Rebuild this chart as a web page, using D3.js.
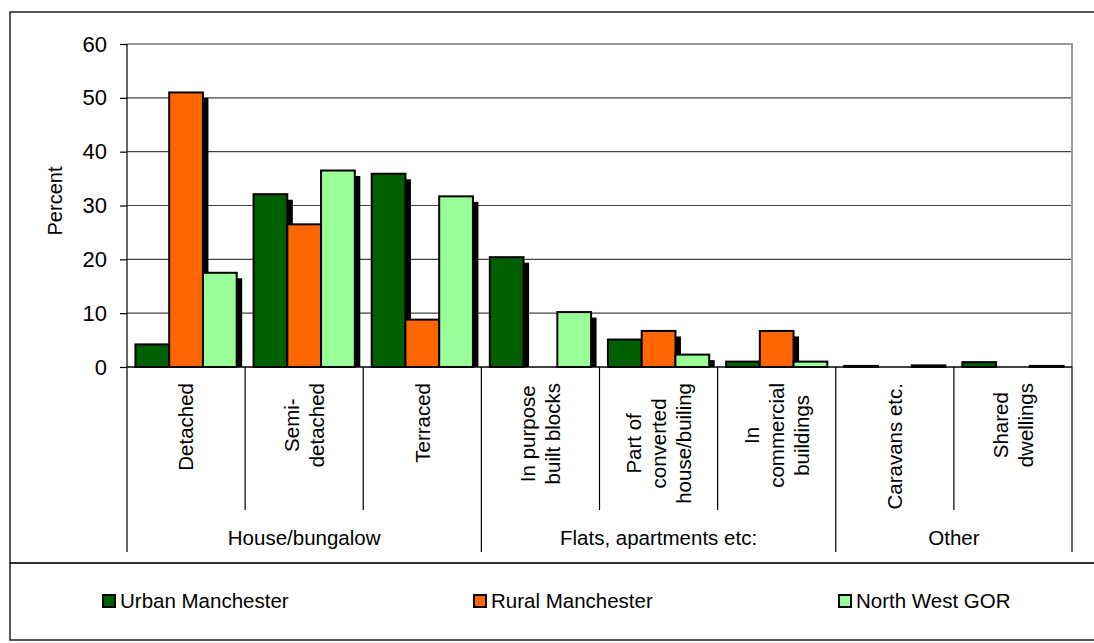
<!DOCTYPE html>
<html>
<head>
<meta charset="utf-8">
<script src="https://cdn.jsdelivr.net/npm/d3@7"></script>
<style>
  body { margin: 0; background: #fff; }
  svg { display: block; font-family: Arial, "Liberation Sans", sans-serif; }
</style>
</head>
<body>
<svg width="1094" height="643"></svg>
<script>
// categories (each entry = lines of the rotated label)
var categories = [
  ["Detached"],
  ["Semi-", "detached"],
  ["Terraced"],
  ["In purpose", "built blocks"],
  ["Part of", "converted", "house/builing"],
  ["In", "commercial", "buildings"],
  ["Caravans etc."],
  ["Shared", "dwellings"]
];
var groupNames = ["House/bungalow", "Flats, apartments etc:", "Other"];
var groupOf = [0, 0, 0, 1, 1, 1, 2, 2];

var seriesNames = ["Urban Manchester", "Rural Manchester", "North West GOR"];
var urban = [4.2, 32.1, 35.9, 20.4, 5.1, 1.0, 0.2, 0.9];
var rural = [51.0, 26.5, 8.8, 0, 6.7, 6.7, 0, 0];
var northWest = [17.5, 36.5, 31.7, 10.2, 2.3, 1.0, 0.3, 0.2];
var yTicks = [0, 10, 20, 30, 40, 50, 60];

var colors = ["#006000", "#ff6600", "#99ff99"];
var series = [urban, rural, northWest];

var svg = d3.select("svg"),
    plotL = 127, plotR = 1072, plotT = 44, plotB = 367;

// chart area + legend boxes
svg.append("rect").attr("x", 10).attr("y", 12).attr("width", 1100).attr("height", 551)
    .attr("fill", "none").attr("stroke", "#222").attr("stroke-width", 1.5);
svg.append("rect").attr("x", 10).attr("y", 563).attr("width", 1100).attr("height", 77)
    .attr("fill", "none").attr("stroke", "#222").attr("stroke-width", 1.5);

var x = d3.scaleBand().domain(d3.range(categories.length)).range([plotL, plotR]).padding(0);
var xs = d3.scaleBand().domain(d3.range(series.length)).range([0, x.bandwidth()])
    .paddingInner(0).paddingOuter(0.25);
var y = d3.scaleLinear().domain([0, 60]).range([plotB, plotT]);

// gridlines
svg.append("g").selectAll("line")
    .data(yTicks.filter(function(d) { return d > 0 && d < 60; }))
    .enter().append("line")
      .attr("x1", plotL).attr("x2", plotR)
      .attr("y1", function(d) { return y(d); }).attr("y2", function(d) { return y(d); })
      .attr("stroke", "#444").attr("stroke-width", 1.2);

// plot area border (gray, top & right)
svg.append("path")
    .attr("d", "M" + plotL + "," + plotT + "H" + plotR + "V" + plotB)
    .attr("fill", "none").attr("stroke", "#999").attr("stroke-width", 2);

// bars with drop shadows
var shadow = 5.5;
series.forEach(function(vals, s) {
  var g = svg.append("g");
  g.selectAll("rect.sh").data(vals).enter().append("rect")
      .attr("class", "sh")
      .attr("x", function(d, i) { return x(i) + xs(s) + shadow; })
      .attr("y", function(d) { return Math.min(y(d) + shadow, plotB); })
      .attr("width", xs.bandwidth())
      .attr("height", function(d) { return Math.max(0, plotB - Math.min(y(d) + shadow, plotB)); })
      .attr("fill", "#000");
  g.selectAll("rect.bar").data(vals).enter().append("rect")
      .attr("class", "bar")
      .attr("x", function(d, i) { return x(i) + xs(s); })
      .attr("y", function(d) { return y(d); })
      .attr("width", xs.bandwidth())
      .attr("height", function(d) { return plotB - y(d); })
      .attr("fill", colors[s])
      .attr("stroke", "#000").attr("stroke-width", 2)
      .attr("display", function(d) { return d > 0 ? null : "none"; });
});

// y axis
var yAxis = svg.append("g")
    .attr("transform", "translate(" + plotL + ",0)")
    .call(d3.axisLeft(y).tickValues(yTicks).tickSize(7).tickPadding(13));
yAxis.select(".domain").remove();
yAxis.selectAll(".tick line").attr("stroke", "#000").attr("stroke-width", 1.2);
yAxis.selectAll("text").attr("font-size", 22).attr("fill", "#000")
    .attr("font-family", "Arial, 'Liberation Sans', sans-serif");
svg.append("line").attr("x1", plotL).attr("x2", plotL).attr("y1", plotT).attr("y2", plotB)
    .attr("stroke", "#000").attr("stroke-width", 1.2);

svg.append("text")
    .attr("transform", "translate(62,201) rotate(-90)")
    .attr("text-anchor", "middle")
    .attr("font-size", 20)
    .text("Percent");

// category axis line
svg.append("line").attr("x1", plotL).attr("x2", plotR).attr("y1", plotB).attr("y2", plotB)
    .attr("stroke", "#000").attr("stroke-width", 1.5);

// separators
var bounds = d3.range(categories.length + 1);
svg.append("g").selectAll("line").data(bounds).enter().append("line")
    .attr("x1", function(i) { return i < categories.length ? x(i) : plotR; })
    .attr("x2", function(i) { return i < categories.length ? x(i) : plotR; })
    .attr("y1", plotB)
    .attr("y2", function(i) {
      var isGroup = i === 0 || i === categories.length || groupOf[i] !== groupOf[i - 1];
      return isGroup ? 552 : 510;
    })
    .attr("stroke", "#000").attr("stroke-width", 1.2);

// category labels (rotated, centered in block that hangs from the axis)
var lh = 25;
categories.forEach(function(lines, i) {
  var c = x(i) + x.bandwidth() / 2;
  var g = svg.append("g").attr("font-size", 20.5);
  var texts = lines.map(function(t, j) {
    return g.append("text").attr("text-anchor", "middle").attr("dy", "0.35em").text(t);
  });
  var maxLen = d3.max(texts, function(t) { return t.node().getComputedTextLength(); });
  var yc = 383 + maxLen / 2;
  texts.forEach(function(t, j) {
    var xj = c + (j - (lines.length - 1) / 2) * lh;
    t.attr("transform", "translate(" + xj + "," + yc + ") rotate(-90)");
  });
});

// group labels
groupNames.forEach(function(name, gi) {
  var idx = groupOf.map(function(g, i) { return g === gi ? i : -1; }).filter(function(i) { return i >= 0; });
  var x0 = x(idx[0]), x1 = x(idx[idx.length - 1]) + x.bandwidth();
  svg.append("text")
      .attr("x", (x0 + x1) / 2).attr("y", 545)
      .attr("text-anchor", "middle")
      .attr("font-size", 20.5)
      .text(name);
});

// legend
var legendX = [103, 474, 839];
seriesNames.forEach(function(name, s) {
  svg.append("rect").attr("x", legendX[s]).attr("y", 595).attr("width", 12).attr("height", 12)
      .attr("fill", colors[s]).attr("stroke", "#000").attr("stroke-width", 2);
  svg.append("text").attr("x", legendX[s] + 17).attr("y", 608)
      .attr("font-size", 20.5).text(name);
});
</script>
</body>
</html>
